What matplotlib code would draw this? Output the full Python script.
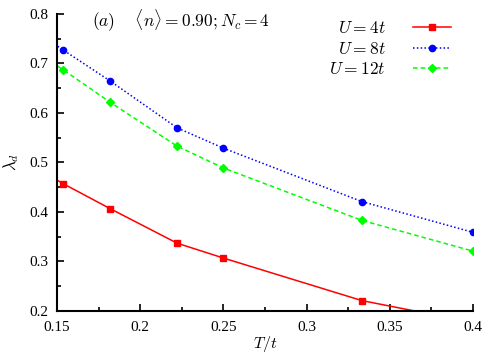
import matplotlib
matplotlib.use("Agg")
import matplotlib.pyplot as plt
from matplotlib.ticker import MultipleLocator

plt.rcParams["mathtext.fontset"] = "cm"
plt.rcParams["font.family"] = "Liberation Serif"

temps = [1 / 7, 1 / 6.5, 1 / 5.5, 1 / 4.5, 1 / 4, 1 / 3, 1 / 2.5]
lam_u4 = [0.478, 0.457, 0.407, 0.337, 0.307, 0.221, 0.177]
lam_u8 = [0.752, 0.727, 0.665, 0.570, 0.529, 0.421, 0.359]
lam_u12 = [0.712, 0.687, 0.622, 0.533, 0.489, 0.383, 0.321]

fig = plt.figure(figsize=(4.85, 3.56), dpi=100)
ax = fig.add_axes([0.1175, 0.1264, 0.8575, 0.8343])

ax.plot(temps, lam_u4, color="#ff0000", ls="-", lw=1.1, marker="s", ms=4,
        label=r"$U=4t$")
ax.plot(temps, lam_u8, color="#0000ff", ls=(0, (1, 1.5)), lw=1.1, marker="o", ms=4.5,
        label=r"$U=8t$")
ax.plot(temps, lam_u12, color="#00ff00", ls=(0, (3, 2)), lw=1.1, marker="D", ms=3.8,
        label=r"$U=12t$")

ax.set_xlim(0.15, 0.4)
ax.set_ylim(0.2, 0.8)
ax.xaxis.set_major_locator(MultipleLocator(0.05))
ax.xaxis.set_minor_locator(MultipleLocator(0.025))
ax.yaxis.set_major_locator(MultipleLocator(0.1))
ax.yaxis.set_minor_locator(MultipleLocator(0.05))
ax.xaxis.set_major_formatter(plt.FuncFormatter(lambda v, p: f"{v:.2f}".rstrip("0")))
ax.yaxis.set_major_formatter(plt.FuncFormatter(lambda v, p: f"{v:.1f}"))

ax.spines["top"].set_visible(False)
ax.spines["right"].set_visible(False)
ax.spines["left"].set_linewidth(1.5)
ax.spines["bottom"].set_linewidth(1.5)
ax.tick_params(which="both", direction="in", width=1.2, labelsize=11)
ax.tick_params(which="major", length=5)
ax.tick_params(which="minor", length=3)
ax.tick_params(axis="x", pad=7)
ax.tick_params(axis="y", pad=6)

ax.set_xlabel(r"$T/t$", fontsize=11.5, labelpad=0)
ax.set_ylabel(r"$\lambda_d$", fontsize=12, labelpad=6)

ax.text(0.084, 0.976, r"$(a)\quad\ \langle n\rangle=0.90;N_c=4$", transform=ax.transAxes,
        fontsize=12.5, va="center", ha="left")

ax.legend(loc="upper right", frameon=False, markerfirst=False, fontsize=12.5,
          handlelength=2.2, handletextpad=1.6, labelspacing=0.25, borderaxespad=0.0,
          bbox_to_anchor=(0.965, 1.0))

fig.savefig("out.png", dpi=100)
